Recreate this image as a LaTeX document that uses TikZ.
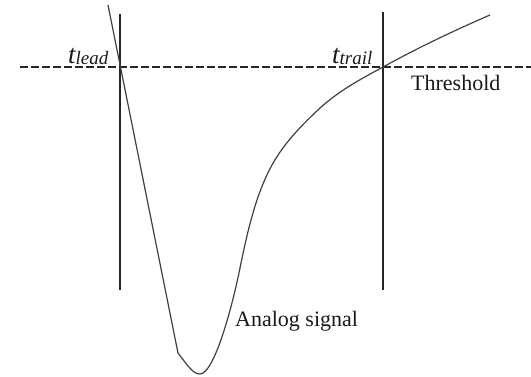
\documentclass[tikz,border=0pt]{standalone}
\usepackage{fontspec}
\setmainfont{Liberation Serif}
\begin{document}
\begin{tikzpicture}[x=1pt,y=-1pt,
  ln/.style={line width=1.1pt, draw=black!85},
  thr/.style={ln, dash pattern=on 8pt off 3pt},
  sig/.style={line width=1.2pt, draw=black!75, line join=round},
  lbl/.style={inner sep=0pt, text=black!90, anchor=base west},
  tbig/.style={lbl, font=\fontsize{27}{30}\selectfont\itshape}]
\useasboundingbox (0,0) rectangle (531,376);
% threshold
\coordinate (thL) at (20,67);
\coordinate (thR) at (531,67);
\draw[thr] (thL) -- (thR);
% vertical markers
\coordinate (v1t) at (120,14);
\coordinate (v1b) at (120,290);
\coordinate (v2t) at (383,12);
\coordinate (v2b) at (383,290);
\draw[ln] (v1t) -- (v1b);
\draw[ln] (v2t) -- (v2b);
% analog signal
\coordinate (s0) at (108,5);
\coordinate (s1) at (178,353);
\coordinate (s2) at (200,374);
\coordinate (s3) at (240,268);
\coordinate (s4) at (320,108);
\coordinate (s5) at (383,67);
\coordinate (s6) at (490,15);
\draw[sig] (s0) -- (s1)
  .. controls (188,366) and (193,374) .. (s2)
  .. controls (214,374) and (232,308) .. (s3)
  .. controls (259,173) and (275,150.5) .. (s4)
  .. controls (340,90) and (361,79) .. (s5)
  .. controls (423,45) and (460,28) .. (s6);
% labels
\node[tbig] (tlead) at (68,63) {t\raisebox{-1.5pt}{\fontsize{19}{22}\selectfont lead}};
\node[tbig] (ttrail) at (332,63) {t\raisebox{-1.5pt}{\fontsize{19}{22}\selectfont trail}};
\node[lbl, font=\fontsize{22}{25}\selectfont] (thresh) at (411,90) {Threshold};
\node[lbl, font=\fontsize{22}{25}\selectfont] (analog) at (235,326) {Analog signal};
\end{tikzpicture}
\end{document}
